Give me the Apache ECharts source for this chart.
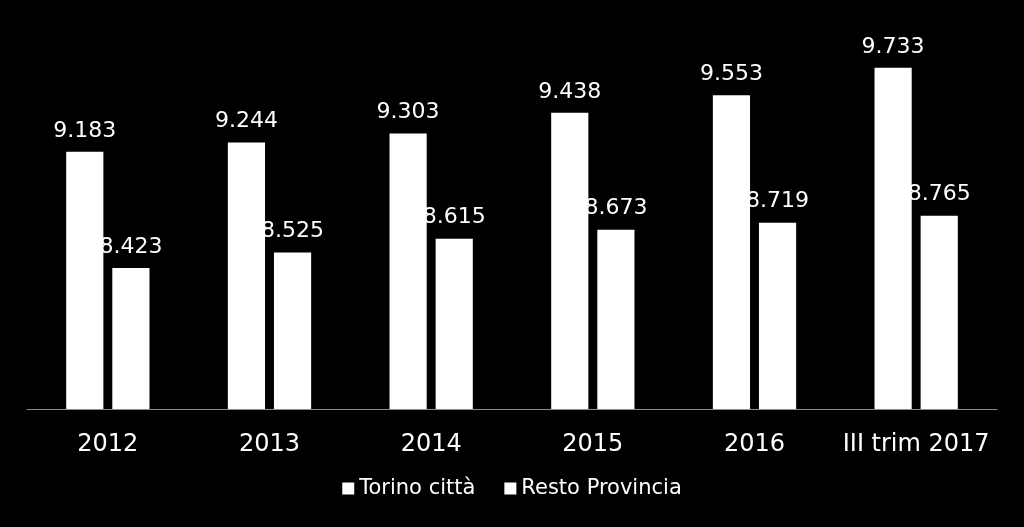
<!DOCTYPE html>
<html><head><meta charset="utf-8">
<script src="https://cdn.jsdelivr.net/npm/echarts@6/dist/echarts.min.js"></script>
<style>html,body{margin:0;padding:0;background:#000}#c{width:1024px;height:527px}</style>
</head><body><div id="c"></div>
<script>
const categories = ['2012','2013','2014','2015','2016','III trim 2017'];
const torino = [9.183, 9.244, 9.303, 9.438, 9.553, 9.733];
const resto = [8.423, 8.525, 8.615, 8.673, 8.719, 8.765];
const seriesNames = ['Torino città','Resto Provincia'];

const font = 'DejaVu Sans';
const fmt = p => p.value.toFixed(3);
const chart = echarts.init(document.getElementById('c'));
const mk = (name, data) => ({
  name, type: 'bar', data, barWidth: '23%', barGap: '24%',
  itemStyle: { color: '#ffffff' },
  label: { show: true, position: 'top', distance: 10, color: '#fff', fontFamily: font, fontSize: 22, formatter: fmt }
});
chart.setOption({
  backgroundColor: '#000',
  animation: false,
  textStyle: { fontFamily: font },
  grid: { left: 27, right: 27, top: 27, bottom: 118 },
  legend: {
    bottom: 23, left: 'center', itemWidth: 12, itemHeight: 12, itemGap: 29,
    icon: 'rect',
    textStyle: { color: '#fff', fontFamily: font, fontSize: 21 },
    data: seriesNames.map(n => ({ name: n, itemStyle: { color: '#fff' } }))
  },
  xAxis: {
    type: 'category', data: categories,
    axisLine: { lineStyle: { color: '#8c8c8c', width: 1 } },
    axisTick: { show: false },
    axisLabel: { color: '#fff', fontFamily: font, fontSize: 24, margin: 24, interval: 0, hideOverlap: false }
  },
  yAxis: { type: 'value', min: 7.5, max: 10, show: false, splitLine: { show: false } },
  series: [mk(seriesNames[0], torino), mk(seriesNames[1], resto)]
});
</script></body></html>
